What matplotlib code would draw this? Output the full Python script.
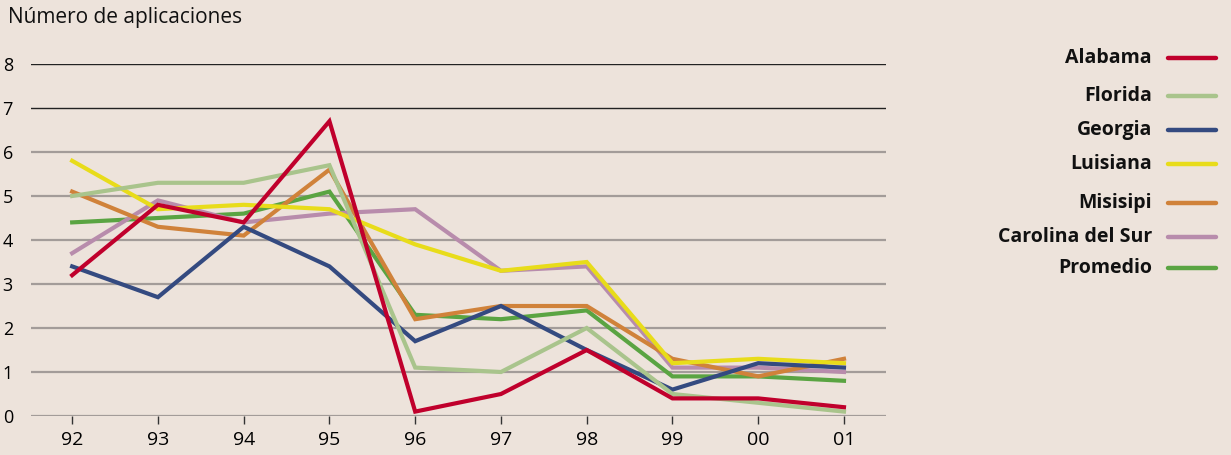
import matplotlib
matplotlib.use("Agg")
import matplotlib.pyplot as plt
from matplotlib.lines import Line2D

plt.rcParams['font.family'] = ['Open Sans', 'DejaVu Sans']

# ---------- Data ----------
years = ["92", "93", "94", "95", "96", "97", "98", "99", "00", "01"]

alabama  = [3.2, 4.8, 4.4, 6.7, 0.1, 0.5, 1.5, 0.4, 0.4, 0.2]
florida  = [5.0, 5.3, 5.3, 5.7, 1.1, 1.0, 2.0, 0.5, 0.3, 0.1]
georgia  = [3.4, 2.7, 4.3, 3.4, 1.7, 2.5, 1.5, 0.6, 1.2, 1.1]
luisiana = [5.8, 4.7, 4.8, 4.7, 3.9, 3.3, 3.5, 1.2, 1.3, 1.2]
misisipi = [5.1, 4.3, 4.1, 5.6, 2.2, 2.5, 2.5, 1.3, 0.9, 1.3]
carolina = [3.7, 4.9, 4.4, 4.6, 4.7, 3.3, 3.4, 1.1, 1.1, 1.0]
promedio = [4.4, 4.5, 4.6, 5.1, 2.3, 2.2, 2.4, 0.9, 0.9, 0.8]

names  = ["Alabama", "Florida", "Georgia", "Luisiana", "Misisipi", "Carolina del Sur", "Promedio"]
series = [alabama, florida, georgia, luisiana, misisipi, carolina, promedio]
colors = ["#c0002c", "#a9c48c", "#344a80", "#e8dc1a", "#d0823a", "#b88cac", "#5aa442"]

bg = "#ede3db"

# ---------- Figure ----------
fig = plt.figure(figsize=(12.31, 4.55), dpi=100, facecolor=bg)
ax = fig.add_axes([31/1231, 39/455, (886-31)/1231, (416-64)/455])
ax.set_facecolor(bg)

x = list(range(len(years)))

# gridlines
for v in range(0, 9):
    c = "#222222" if v >= 7 else "#a39c99"
    lw = 1.0 if v >= 7 else 1.6
    ax.axhline(v, color=c, lw=lw, zorder=1)

# draw back-to-front so Alabama is on top
for vals, col in reversed(list(zip(series, colors))):
    ax.plot(x, vals, color=col, lw=3.0, solid_joinstyle="miter", zorder=3)

ax.set_xlim(-0.48, 9.49)
ax.set_ylim(0, 8)
ax.set_xticks(x)
ax.set_xticklabels(years, fontsize=14)
ax.set_yticks(range(0, 9))
ax.set_yticklabels([str(v) for v in range(0, 9)], fontsize=13)
ax.tick_params(axis="x", length=6, width=1, color="#333333", pad=5)
ax.tick_params(axis="y", length=0, pad=13)
for s in ax.spines.values():
    s.set_visible(False)

fig.text(8/1231, 1 - 17/455, "Número de aplicaciones", fontsize=15,
         ha="left", va="center", color="#111111")

# ---------- Legend (custom) ----------
leg_y = [58, 96, 130, 164, 203, 237, 268]
for name, col, yp in zip(names, colors, leg_y):
    fy = 1 - yp/455
    fig.text(1152/1231, fy, name, fontsize=14, fontweight="bold",
             ha="right", va="center", color="#111111")
    fig.add_artist(Line2D([1168/1231, 1216/1231], [fy, fy], color=col, lw=3.2,
                          solid_capstyle="round", transform=fig.transFigure))

fig.savefig("out.png", dpi=100, facecolor=bg)
